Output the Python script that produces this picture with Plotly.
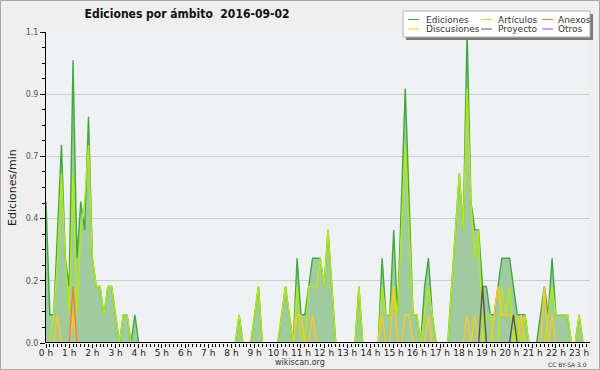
import plotly.graph_objects as go

# ---- data: 10-minute bins, edits per minute ----
bin_minutes = list(range(0, 1410, 10))  # 0:00 .. 23:20

ediciones = [
    0.5, 0.1, 0.1, 0.4, 0.7, 0.3, 0.2, 1.0, 0.3, 0.5,
    0.4, 0.8, 0.3, 0.2, 0.2, 0.1, 0.2, 0.2, 0.1, 0.0,
    0.1, 0.1, 0.0, 0.1, 0.0, 0.0, 0.0, 0.0, 0.0, 0.0,
    0.0, 0.0, 0.0, 0.0, 0.0, 0.0, 0.0, 0.0, 0.0, 0.0,
    0.0, 0.0, 0.0, 0.0, 0.0, 0.0, 0.0, 0.0, 0.0, 0.0,
    0.1, 0.0, 0.0, 0.0, 0.1, 0.2, 0.0, 0.0, 0.0, 0.0,
    0.0, 0.1, 0.2, 0.1, 0.0, 0.3, 0.1, 0.1, 0.2, 0.3,
    0.3, 0.3, 0.2, 0.4, 0.2, 0.0, 0.0, 0.0, 0.0, 0.0,
    0.0, 0.2, 0.0, 0.0, 0.0, 0.0, 0.0, 0.3, 0.1, 0.1,
    0.4, 0.1, 0.5, 0.9, 0.5, 0.1, 0.1, 0.0, 0.2, 0.3,
    0.1, 0.0, 0.0, 0.0, 0.0, 0.2, 0.4, 0.6, 0.4, 1.1,
    0.5, 0.4, 0.4, 0.2, 0.2, 0.1, 0.1, 0.2, 0.3, 0.3,
    0.3, 0.2, 0.1, 0.1, 0.1, 0.0, 0.0, 0.0, 0.1, 0.2,
    0.1, 0.3, 0.1, 0.1, 0.1, 0.1, 0.0, 0.0, 0.1, 0.0,
    0.0,
]
articulos = [
    0.0, 0.0, 0.1, 0.3, 0.6, 0.3, 0.1, 0.6, 0.1, 0.4,
    0.5, 0.7, 0.3, 0.2, 0.2, 0.1, 0.2, 0.2, 0.1, 0.0,
    0.1, 0.1, 0.0, 0.0, 0.0, 0.0, 0.0, 0.0, 0.0, 0.0,
    0.0, 0.0, 0.0, 0.0, 0.0, 0.0, 0.0, 0.0, 0.0, 0.0,
    0.0, 0.0, 0.0, 0.0, 0.0, 0.0, 0.0, 0.0, 0.0, 0.0,
    0.1, 0.0, 0.0, 0.0, 0.1, 0.2, 0.0, 0.0, 0.0, 0.0,
    0.0, 0.1, 0.2, 0.1, 0.0, 0.2, 0.0, 0.0, 0.2, 0.2,
    0.2, 0.3, 0.2, 0.4, 0.2, 0.0, 0.0, 0.0, 0.0, 0.0,
    0.0, 0.2, 0.0, 0.0, 0.0, 0.0, 0.0, 0.2, 0.1, 0.1,
    0.2, 0.1, 0.4, 0.7, 0.4, 0.1, 0.1, 0.0, 0.1, 0.2,
    0.1, 0.0, 0.0, 0.0, 0.0, 0.2, 0.4, 0.6, 0.4, 0.9,
    0.5, 0.3, 0.4, 0.0, 0.1, 0.1, 0.0, 0.0, 0.2, 0.1,
    0.2, 0.0, 0.1, 0.0, 0.1, 0.0, 0.0, 0.0, 0.0, 0.0,
    0.1, 0.2, 0.1, 0.1, 0.1, 0.1, 0.0, 0.0, 0.1, 0.0,
    0.0,
]
discusiones = [0.0] * 141
for k, v in {3: 0.1, 7: 0.1, 65: 0.1, 66: 0.1, 69: 0.1, 87: 0.1, 90: 0.2,
             93: 0.1, 94: 0.1, 99: 0.1, 109: 0.1, 111: 0.1, 116: 0.1, 117: 0.2,
             118: 0.1, 119: 0.1, 120: 0.1, 121: 0.1, 123: 0.1, 129: 0.2,
             131: 0.1}.items():
    discusiones[k] = v
anexos = [0.0] * 141
anexos[7] = 0.2
proyecto = [0.0] * 141
proyecto[113] = 0.2
proyecto[121] = 0.1
otros = [0.0] * 141

series_names = ["Ediciones", "Artículos", "Anexos", "Discusiones", "Proyecto", "Otros"]
series_colors = ["#3caa3c", "#b4ea10", "#ff7a30", "#ffc81e", "#555555", "#9a40ff"]

y_tick_vals = [0, 0.22, 0.44, 0.66, 0.88, 1.1]
y_tick_text = ["0.0", "0.2", "0.4", "0.7", "0.9", "1.1"]

title_text = "Ediciones por ámbito  2016-09-02"
y_title = "Ediciones/min"

# ---- figure ----
hours = [m / 60 for m in bin_minutes]
W, H = 600, 370
L, R, T, B = 46, 10, 32, 27
PW, PH = W - L - R, H - T - B


def px(x):
    return (x - L) / PW


def py(y):
    return (H - B - y) / PH


fig = go.Figure()
data_map = {"Ediciones": ediciones, "Artículos": articulos, "Anexos": anexos,
            "Discusiones": discusiones, "Proyecto": proyecto, "Otros": otros}
draw_order = ["Otros", "Ediciones", "Artículos", "Discusiones", "Anexos", "Proyecto"]
for name in draw_order:
    c = series_colors[series_names.index(name)]
    kw = {}
    if name == "Ediciones":
        kw = dict(fill="tozeroy", fillcolor="#a0cba0")
    fig.add_trace(go.Scatter(x=hours, y=data_map[name], mode="lines", name=name,
                             line=dict(color=c, width=1.4), showlegend=False,
                             hoverinfo="skip", **kw))

shapes = []
# outer frame
shapes.append(dict(type="rect", xref="paper", yref="paper", x0=px(0.5), x1=px(599.5),
                   y0=py(369.5), y1=py(0.5), line=dict(color="#a8a8a8", width=1),
                   layer="below"))
# baseline (x axis line drawn over zero-valued line segments)
shapes.append(dict(type="line", xref="paper", yref="y", x0=0, x1=1, y0=0, y1=0,
                   line=dict(color="black", width=2), layer="above"))
# legend box: shadow, then white box
shapes.append(dict(type="rect", xref="paper", yref="paper", x0=px(406), x1=px(593),
                   y0=py(40), y1=py(14), fillcolor="#7a7a7a", line=dict(width=0)))
shapes.append(dict(type="rect", xref="paper", yref="paper", x0=px(403), x1=px(590),
                   y0=py(37), y1=py(11), fillcolor="white",
                   line=dict(color="#b0b0b0", width=1)))
annotations = []
col_line_x = [408, 481, 542]
col_text_x = [424, 496, 556]
row_y = [19.5, 29.0]
for idx, name in enumerate(series_names):
    r, cidx = divmod(idx, 3)
    shapes.append(dict(type="line", xref="paper", yref="paper",
                       x0=px(col_line_x[cidx]), x1=px(col_line_x[cidx] + 11),
                       y0=py(row_y[r]), y1=py(row_y[r]),
                       line=dict(color=series_colors[idx], width=1)))
    annotations.append(dict(text=name, xref="paper", yref="paper",
                            x=px(col_text_x[cidx]), y=py(row_y[r]),
                            xanchor="left", yanchor="middle", showarrow=False,
                            font=dict(family="DejaVu Sans", size=9, color="#333333")))

annotations.append(dict(text=y_title, xref="paper", yref="paper", x=px(12), y=py(188),
                        textangle=-90, showarrow=False, xanchor="center", yanchor="middle",
                        font=dict(family="DejaVu Sans", size=11, color="#222222")))
annotations.append(dict(text="wikiscan.org", xref="paper", yref="paper", x=px(300), y=py(362),
                        showarrow=False, xanchor="center", yanchor="middle",
                        font=dict(family="DejaVu Sans", size=8, color="#333333")))
annotations.append(dict(text="CC BY-SA 3.0", xref="paper", yref="paper", x=px(589), y=py(364),
                        showarrow=False, xanchor="right", yanchor="middle",
                        font=dict(family="DejaVu Sans", size=6, color="#333333")))

fig.update_layout(
    width=W, height=H,
    margin=dict(l=L, r=R, t=T, b=B, pad=0),
    paper_bgcolor="#efefef", plot_bgcolor="#f0f1f3",
    showlegend=False,
    title=dict(text=title_text, x=187 / W, xref="container", xanchor="center",
               y=1 - 14 / H, yref="container", yanchor="middle",
               font=dict(family="DejaVu Sans Condensed, Liberation Sans", size=12,
                         color="#111111", weight="bold")),
    shapes=shapes, annotations=annotations,
    xaxis=dict(range=[0, 23.47], tick0=0, dtick=1, ticksuffix=" h",
               ticks="outside", ticklen=4, tickcolor="black", tickwidth=1,
               ticklabelstandoff=-3,
               showline=False, zeroline=False, showgrid=False,
               minor=dict(dtick=1 / 6, tick0=0, ticks="outside", ticklen=3,
                          tickcolor="black", showgrid=False),
               tickfont=dict(family="DejaVu Sans", size=9, color="#222222"),
               fixedrange=True),
    yaxis=dict(range=[0, 1.1], tickmode="array", tickvals=y_tick_vals, ticktext=y_tick_text,
               ticks="outside", ticklen=5, tickcolor="black", tickwidth=1,
               showline=True, linecolor="black", linewidth=1,
               showgrid=True, gridcolor="#cccccc", gridwidth=1, zeroline=False,
               minor=dict(tickmode="linear", dtick=0.055, tick0=0, ticks="outside", ticklen=3,
                          tickcolor="black", showgrid=False),
               tickfont=dict(family="DejaVu Sans", size=8, color="#555555"),
               fixedrange=True),
)

fig.write_html("out.html",
               config={"displayModeBar": False, "staticPlot": True},
               post_script="document.body.style.margin='0';"
                           "document.body.style.background='#efefef';")
